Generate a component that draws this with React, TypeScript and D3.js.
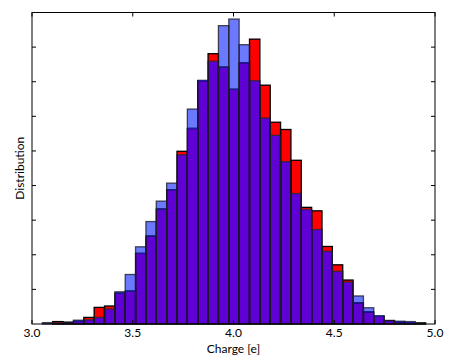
import React from "react";
import * as d3 from "d3";

// Histogram bins (left edge of first bin and bin width in charge units)
const binStart = 3.0;
const binWidth = 0.0514;

// Heights of each bin (in y-tick units)
const blueCounts = [
  0, 0.04, 0.03, 0.05, 0.11, 0.12, 0.19, 0.43, 0.93, 1.43,
  2.23, 2.96, 3.55, 4.07, 4.89, 6.21, 7.04, 7.59, 8.62, 8.81,
  8.07, 7.03, 5.95, 5.45, 4.69, 3.77, 3.31, 2.73, 2.1, 1.52,
  1.21, 0.81, 0.47, 0.24, 0.1, 0.08, 0.07, 0.03,
];
const redCounts = [
  0, 0.0, 0.07, 0.05, 0.08, 0.19, 0.48, 0.52, 0.89, 0.95,
  2.04, 2.54, 3.32, 3.88, 4.99, 5.65, 7.03, 7.81, 7.42, 6.78,
  7.55, 8.23, 6.9, 5.83, 5.62, 4.73, 3.37, 3.27, 2.24, 1.71,
  1.27, 0.61, 0.35, 0.22, 0.1, 0.06, 0.04, 0.03,
];

const xTicks = [3.0, 3.5, 4.0, 4.5, 5.0];
const yTicks = [1, 2, 3, 4, 5, 6, 7, 8];

const W = 469;
const H = 363;
const left = 32, right = 435, top = 12.5, bottom = 324;

const RED = "#ff0000";
const LIGHTBLUE = "#6b79ff";
const PURPLE = "#5f00d4";

export default function App() {
  const x = d3.scaleLinear().domain([3, 5]).range([left, right]);
  const y = d3.scaleLinear().domain([0, 9]).range([bottom, top]);
  const font = "Lato, 'Open Sans', sans-serif";

  const bins = blueCounts.map((b, i) => {
    const r = redCounts[i];
    const x0 = x(binStart + i * binWidth);
    const x1 = x(binStart + (i + 1) * binWidth);
    return { i, b, r, x0, x1, lo: Math.min(b, r) };
  });

  return (
    <svg width={W} height={H} style={{ position: "absolute", left: 0, top: 0, background: "#fff" }}>
      <rect x={0} y={0} width={W} height={H} fill="#fff" />
      {/* fills */}
      {bins.map((d) => (
        <g key={"f" + d.i}>
          {d.lo > 0 && (
            <rect x={d.x0} y={y(d.lo)} width={d.x1 - d.x0} height={y(0) - y(d.lo)} fill={PURPLE} />
          )}
          {d.r > d.b && (
            <rect x={d.x0} y={y(d.r)} width={d.x1 - d.x0} height={y(d.b) - y(d.r)} fill={RED} />
          )}
          {d.b > d.r && (
            <rect x={d.x0} y={y(d.b)} width={d.x1 - d.x0} height={y(d.r) - y(d.b)} fill={LIGHTBLUE} />
          )}
        </g>
      ))}
      {/* red outlines */}
      {bins.map((d) =>
        d.r > 0 ? (
          <rect key={"ro" + d.i} x={d.x0} y={y(d.r)} width={d.x1 - d.x0} height={y(0) - y(d.r)}
            fill="none" stroke="#000" strokeWidth={1.3} />
        ) : null
      )}
      {/* blue outlines */}
      {bins.map((d) =>
        d.b > 0 ? (
          <rect key={"bo" + d.i} x={d.x0} y={y(d.b)} width={d.x1 - d.x0} height={y(0) - y(d.b)}
            fill="none" stroke="rgba(30,30,40,0.8)" strokeWidth={1.3} />
        ) : null
      )}
      {/* red top seen through blue */}
      {bins.map((d) =>
        d.b > d.r && d.r > 0 ? (
          <line key={"rt" + d.i} x1={d.x0 + 0.6} x2={d.x1 - 0.6} y1={y(d.r)} y2={y(d.r)}
            stroke="#1c1ca0" strokeWidth={1.3} />
        ) : null
      )}
      {/* frame */}
      <rect x={left} y={top} width={right - left} height={bottom - top} fill="none" stroke="#000" strokeWidth={1} />
      {/* y ticks (inward, both sides) */}
      {yTicks.map((t) => (
        <g key={"yt" + t}>
          <line x1={left} x2={left + 4} y1={y(t)} y2={y(t)} stroke="#000" strokeWidth={1} />
          <line x1={right} x2={right - 4} y1={y(t)} y2={y(t)} stroke="#000" strokeWidth={1} />
        </g>
      ))}
      {/* x ticks */}
      {xTicks.map((t) => (
        <g key={"xt" + t}>
          <line x1={x(t)} x2={x(t)} y1={bottom} y2={bottom - 4} stroke="#000" strokeWidth={1} />
          <line x1={x(t)} x2={x(t)} y1={top} y2={top + 4} stroke="#000" strokeWidth={1} />
          <text x={x(t)} y={337} textAnchor="middle" fontFamily={font} fontSize={12} fill="#000">
            {t.toFixed(1)}
          </text>
        </g>
      ))}
      <text x={(left + right) / 2} y={353} textAnchor="middle" fontFamily={font} fontSize={12} fill="#000">
        Charge [e]
      </text>
      <text transform={`translate(24,${(top + bottom) / 2}) rotate(-90)`} textAnchor="middle"
        fontFamily={font} fontSize={12} fill="#000">
        Distribution
      </text>
    </svg>
  );
}
